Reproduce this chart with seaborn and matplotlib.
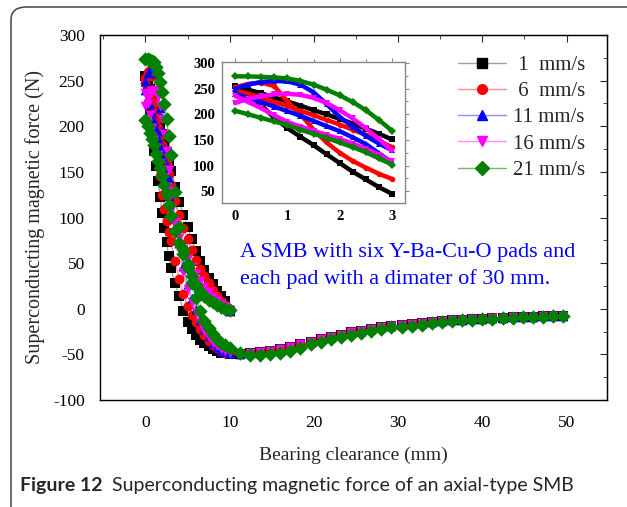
import numpy as np
import pandas as pd
import matplotlib
matplotlib.use("Agg")
import matplotlib.pyplot as plt
import seaborn as sns
from matplotlib.lines import Line2D
from matplotlib.patches import FancyBboxPatch

# ---------------- data ----------------
speeds = [" 1  mm/s", " 6  mm/s", "11 mm/s", "16 mm/s", "21 mm/s"]
dark_colors = ["#000000", "#ff0000", "#0000ff", "#ff00ff", "#008000"]
light_colors = ["#a0a0a0", "#ff8c8c", "#8c8cff", "#ff8cff", "#70b870"]
markers = ["s", "o", "^", "v", "D"]

# clearance grid (mm) for the near-contact region, 0-10 mm
x_near = [0, 0.25, 0.5, 0.75, 1, 1.25, 1.5, 1.75, 2, 2.25, 2.5, 2.75, 3,
          3.5, 4, 4.5, 5, 5.5, 6, 6.5, 7, 7.5, 8, 8.5, 9, 9.5, 10]

# approach branches (gap decreasing 10 -> 0), listed on x_near
approach_1 = [255, 248, 241, 233, 225, 217, 208, 200, 191, 182, 172, 162, 151,
              133, 117, 103, 90, 76, 63, 52, 42, 34, 27, 20, 14, 8, -2]
approach_6 = [247, 240, 232, 224, 216, 207, 198, 189, 180, 170, 160, 148, 136,
              118, 103, 89, 76, 64, 53, 44, 36, 28, 21, 14, 9, 4, 0]
approach_11 = [240, 232, 224, 215, 206, 197, 187, 177, 167, 155, 142, 124, 106,
               88, 74, 62, 52, 43, 35, 28, 22, 17, 12, 8, 4, 1, -2]
approach_16 = [236, 224, 212, 198, 185, 176, 168, 160, 152, 143, 133, 121, 108,
               92, 78, 66, 55, 46, 38, 30, 24, 18, 13, 9, 5, 2, -1]
approach_21 = [207, 200, 193, 186, 179, 170, 162, 154, 145, 136, 126, 114, 102,
               85, 72, 60, 49, 36, 26, 19, 14, 10, 7, 4, 2, 0, -1]

# receding branches (gap increasing 0 -> 10), listed on x_near
recede_1 = [255, 240, 218, 193, 173, 156, 140, 122, 105, 88, 73, 58, 45,
            28, 14, -2, -14, -22, -29, -34, -38, -41, -44, -46, -48, -49, -50]
recede_6 = [253, 259, 262, 255, 225, 200, 170, 145, 125, 109, 96, 84, 74,
            52, 33, 16, 3, -7, -14, -22, -29, -35, -40, -43, -46, -48, -49]
recede_11 = [250, 258, 263, 265, 264, 258, 243, 220, 195, 176, 158, 143, 130,
             100, 72, 47, 27, 12, 0, -12, -22, -30, -37, -42, -45, -47, -48]
recede_16 = [222, 230, 235, 239, 240, 238, 232, 222, 208, 192, 173, 152, 129,
             95, 66, 40, 22, 7, -4, -15, -24, -31, -37, -41, -44, -46, -48]
recede_21 = [274, 274, 273, 272, 270, 265, 258, 248, 237, 224, 208, 189, 168,
             128, 90, 65, 45, 28, 12, -2, -13, -21, -28, -33, -37, -40, -43]

# receding branches continued, 10-50 mm
x_far = [11.2, 12.4, 13.6, 14.8, 16, 17.2, 18.4, 19.6, 20.8, 22, 23.2, 24.4,
         25.6, 26.8, 28, 29.2, 30.4, 31.6, 32.8, 34, 35.2, 36.4, 37.6, 38.8,
         40, 41.2, 42.4, 43.6, 44.8, 46, 47.2, 48.4, 49.6]
far_low_speeds = [-50, -49, -47.5, -46, -44, -42, -39, -36, -33.5, -31, -28.5,
                  -26, -24, -22, -20.5, -19, -17.5, -16.5, -15.5, -14.5, -13.5,
                  -12.8, -12, -11.3, -10.8, -10.3, -9.9, -9.5, -9.1, -8.7,
                  -8.3, -8, -7.6]
far_21 = [-48.5, -50.5, -50.5, -49.5, -48, -46, -42.5, -39, -36.5, -33.5, -31,
          -29, -26.5, -24.5, -22.5, -20.5, -19.5, -18.5, -17.5, -16, -15,
          -13.5, -12.7, -11.8, -11.3, -10.8, -10.3, -9.9, -9.5, -9, -8.6,
          -8.2, -7.8]

approaches = [approach_1, approach_6, approach_11, approach_16, approach_21]
recedes = [recede_1, recede_6, recede_11, recede_16, recede_21]
fars = [far_low_speeds, far_low_speeds, far_low_speeds, far_low_speeds, far_21]

rows = []
for sp, ap, rc, fr in zip(speeds, approaches, recedes, fars):
    for k, (xv, yv) in enumerate(zip(x_near[::-1], ap[::-1])):
        rows.append((sp, "approach", k, xv, yv))
    for k, (xv, yv) in enumerate(zip(x_near + x_far, rc + fr)):
        rows.append((sp, "recede", k, xv, yv))
df = pd.DataFrame(rows, columns=["speed", "branch", "order", "gap", "force"])

# ---------------- figure ----------------
W, H = 627, 507
sns.set_style("white")
plt.rcParams["font.family"] = ["Liberation Serif", "DejaVu Serif"]
plt.rcParams["axes.unicode_minus"] = False
fig = plt.figure(figsize=(W / 100, H / 100), dpi=100)

# rounded frame (only top/left visible)
frame = FancyBboxPatch((11 / W, -40 / H), (W + 40) / W, (H + 40 - 7) / H,
                       boxstyle="round,pad=0,rounding_size=0.025",
                       transform=fig.transFigure, fill=False,
                       edgecolor="#444444", lw=1.1, clip_on=False)
fig.patches.append(frame)

ax = fig.add_axes([100 / W, 1 - 400 / H, 507 / W, 365 / H])
ax.set_facecolor("white")

# connecting lines (light colours)
for sp, lc in zip(speeds, light_colors):
    sub = df[df.speed == sp]
    for br in ["approach", "recede"]:
        s2 = sub[sub.branch == br].sort_values("order")
        sns.lineplot(data=s2, x="gap", y="force", sort=False, estimator=None,
                     color=lc, lw=0.9, ax=ax, legend=False)

# markers
msize = {"s": 44, "o": 50, "^": 50, "v": 50, "D": 54}
for sp, dc, mk in zip(speeds, dark_colors, markers):
    sub = df[df.speed == sp]
    sns.scatterplot(data=sub, x="gap", y="force", color=dc, marker=mk,
                    s=msize[mk], linewidth=0, ax=ax, legend=False, zorder=3)

ax.set_xlim(-5.4, 54.8)
ax.set_ylim(-100, 300)
ax.set_xticks([0, 10, 20, 30, 40, 50])
ax.set_xticks(np.arange(-5, 55, 10), minor=True)
ax.set_yticks(np.arange(-100, 301, 50))
ax.set_yticks(np.arange(-75, 300, 50), minor=True)
for sp_ in ax.spines.values():
    sp_.set_color("black")
    sp_.set_linewidth(1.0)
ax.tick_params(which="major", direction="out", length=5, width=1.0,
               labelsize=12.5, colors="black", pad=6)
ax.tick_params(which="minor", direction="out", length=3, width=1.0)
ax.set_xlabel("Bearing clearance (mm)", fontsize=14, labelpad=11)
ax.set_ylabel("Superconducting magnetic force (N)", fontsize=14.5, labelpad=6)

secx = ax.secondary_xaxis("top")
secx.set_xticks([0, 10, 20, 30, 40, 50])
secx.set_xticks(np.arange(-5, 55, 10), minor=True)
secx.tick_params(which="major", direction="in", length=5, labeltop=False)
secx.tick_params(which="minor", direction="in", length=3)
secy = ax.secondary_yaxis("right")
secy.set_yticks(np.arange(-100, 301, 50))
secy.set_yticks(np.arange(-75, 300, 50), minor=True)
secy.tick_params(which="major", direction="in", length=5, labelright=False)
secy.tick_params(which="minor", direction="in", length=3)

# legend
handles = [Line2D([], [], color=lc, lw=1.0, marker=mk, markerfacecolor=dc,
                  markeredgecolor=dc, markersize=7)
           for lc, dc, mk in zip(light_colors, dark_colors, markers)]
fig.legend(handles, speeds, loc="upper left",
           bbox_to_anchor=(448 / W, 1 - 45 / H), frameon=False,
           fontsize=15, handlelength=2.3, handletextpad=0.3,
           labelspacing=0.32, borderpad=0)

# annotation
fig.text(240 / W, 1 - 253 / H, "A SMB with six Y-Ba-Cu-O pads and",
         color="#0000ff", fontsize=16, va="center", ha="left")
fig.text(240 / W, 1 - 279 / H, "each pad with a dimater of 30 mm.",
         color="#0000ff", fontsize=16, va="center", ha="left")

# inset
axi = fig.add_axes([222 / W, 1 - 203 / H, 183 / W, 141 / H])
axi.set_facecolor("white")
near_df = df[df.gap <= 3]
for sp, dc, mk in zip(speeds, dark_colors, markers):
    sub = near_df[near_df.speed == sp]
    for br in ["approach", "recede"]:
        s2 = sub[sub.branch == br].sort_values("gap")
        sns.lineplot(data=s2, x="gap", y="force", sort=False, estimator=None,
                     color=dc, lw=3.2, marker=mk, markersize=4,
                     markeredgewidth=0, ax=axi, legend=False)
axi.set_xlim(-0.25, 3.25)
axi.set_ylim(27, 302)
axi.set_xticks([0, 1, 2, 3])
axi.set_xticks([0.5, 1.5, 2.5], minor=True)
axi.set_yticks([50, 100, 150, 200, 250, 300])
axi.set_yticks([75, 125, 175, 225, 275], minor=True)
axi.set_xlabel("")
axi.set_ylabel("")
for sp_ in axi.spines.values():
    sp_.set_color("#888888")
    sp_.set_linewidth(1.0)
axi.tick_params(which="major", direction="out", length=3, width=0.8,
                labelsize=10.5, colors="#888888", labelcolor="black", pad=2,
                top=True, right=True)
axi.tick_params(which="minor", direction="out", length=2, width=0.8,
                colors="#888888", top=True, right=True)
for lab in axi.get_xticklabels() + axi.get_yticklabels():
    lab.set_fontweight("bold")

# caption
fig.text(20 / W, 1 - 486 / H, "Figure 12", fontsize=14, fontweight="bold",
         family=["Lato", "DejaVu Sans"], va="center", ha="left")
fig.text(112 / W, 1 - 486 / H,
         "Superconducting magnetic force of an axial-type SMB",
         fontsize=14, family=["Lato", "DejaVu Sans"], va="center", ha="left")

fig.savefig("out.png", dpi=100, facecolor="white")
